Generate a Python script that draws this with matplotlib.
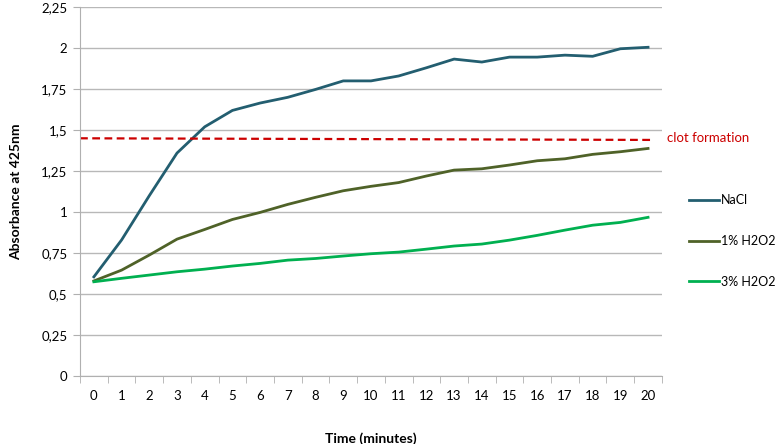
import matplotlib.pyplot as plt
from matplotlib.ticker import FuncFormatter, MultipleLocator

# Datos
minutos = list(range(21))
nacl = [0.605, 0.83, 1.10, 1.36, 1.52, 1.62, 1.665, 1.70, 1.748, 1.80, 1.80,
        1.83, 1.88, 1.933, 1.915, 1.945, 1.945, 1.957, 1.95, 1.996, 2.005]
h2o2_1 = [0.58, 0.646, 0.738, 0.835, 0.894, 0.955, 0.998, 1.047, 1.09, 1.13, 1.157,
          1.18, 1.22, 1.256, 1.264, 1.287, 1.313, 1.325, 1.352, 1.368, 1.388]
h2o2_3 = [0.575, 0.596, 0.616, 0.636, 0.652, 0.671, 0.687, 0.707, 0.717, 0.732, 0.746,
          0.756, 0.774, 0.793, 0.805, 0.829, 0.858, 0.89, 0.92, 0.937, 0.968]
coagulo = [1.45, 1.44]  # línea "clot formation" (inicio, fin)

plt.rcParams['font.family'] = ['Lato', 'DejaVu Sans']

fig = plt.figure(figsize=(7.8, 4.44), dpi=100)
ax = fig.add_axes([0.1026, 0.153, 0.746, 0.831])

ax.plot(minutos, nacl, color="#235E70", lw=2.0, label="NaCl")
ax.plot(minutos, h2o2_1, color="#4F6228", lw=2.0, label="1% H2O2")
ax.plot(minutos, h2o2_3, color="#00B050", lw=2.0, label="3% H2O2")
ax.plot([-0.5, 20.15], coagulo, color="#CC0000", lw=1.6, linestyle=(0, (3.5, 2)))
ax.text(20.7, coagulo[1] + 0.01, "clot formation", color="#CC0000", fontsize=9.5,
        va="center", ha="left")

ax.set_xlim(-0.5, 20.5)
ax.set_ylim(0, 2.25)
ax.yaxis.set_major_locator(MultipleLocator(0.25))
ax.yaxis.set_major_formatter(FuncFormatter(lambda v, p: f"{v:g}".replace(".", ",")))
ax.set_xticks(minutos)
ax.set_xticks([i - 0.5 for i in range(22)], minor=True)
ax.tick_params(axis="x", which="major", length=0, pad=10, labelsize=9.5)
ax.tick_params(axis="x", which="minor", length=5, color="#b0b0b0")
ax.tick_params(axis="y", length=5, color="#b0b0b0", labelsize=9.5, pad=4)

ax.grid(axis="y", color="#b8b8b8", lw=1)
ax.set_axisbelow(True)
for s in ["top", "right"]:
    ax.spines[s].set_visible(False)
for s in ["left", "bottom"]:
    ax.spines[s].set_color("#b0b0b0")

ax.set_xlabel("Time (minutes)", fontsize=10, fontweight="bold", labelpad=22)
ax.set_ylabel("Absorbance at 425nm", fontsize=10, fontweight="bold", labelpad=14)

fig.legend(loc="upper left", bbox_to_anchor=(0.88, 0.568), frameon=False,
           fontsize=9, handlelength=2.4, handletextpad=0.15, labelspacing=2.3,
           borderaxespad=0, borderpad=0.2)

fig.savefig("out.png")
